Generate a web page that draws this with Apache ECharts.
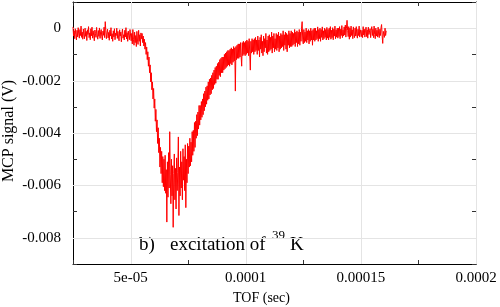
<!DOCTYPE html>
<html><head><meta charset="utf-8">
<script src="https://cdn.jsdelivr.net/npm/echarts@6/dist/echarts.min.js"></script>
<style>html,body{margin:0;padding:0;background:#fff}#c{width:500px;height:307px}</style>
</head><body><div id="c"></div>
<script>
// sampling grid of the recorded trace
const tStart_us = 25.0;
const tStep_us = 0.25;
// MCP signal, in mV, one value per sample
const signal_mV = [
0.05,-0.30,-0.10,-0.40,-0.02,-0.25,-0.45,-0.08,-0.33,0.02,-0.22,-0.38,-0.05,-0.28,0.08,-0.35,-0.15,-0.42,-0.03,-0.26,
-0.40,0.00,-0.31,-0.12,-0.47,-0.06,-0.24,0.06,-0.36,-0.18,-0.44,-0.02,-0.29,0.04,-0.38,-0.10,-0.27,-0.48,-0.07,-0.20,
-0.35,0.03,-0.26,-0.42,-0.09,-0.31,0.01,-0.39,-0.14,-0.05,-0.33,-0.45,-0.11,-0.27,0.04,-0.36,0.25,-0.08,-0.40,-0.18,
-0.04,-0.37,-0.16,-0.46,-0.08,-0.30,0.02,-0.41,-0.21,-0.50,-0.10,-0.33,-0.02,-0.44,-0.19,-0.28,0.00,-0.39,-0.12,-0.34,
-0.48,-0.06,-0.30,-0.15,-0.52,-0.20,-0.03,-0.38,-0.25,-0.45,-0.08,-0.33,0.02,-0.41,-0.17,-0.50,-0.11,-0.29,-0.44,-0.05,
-0.10,-0.48,-0.20,-0.60,-0.05,-0.42,-0.65,-0.15,-0.55,-0.28,-0.70,-0.12,-0.45,-0.62,-0.08,-0.50,-0.25,-0.68,-0.18,-0.40,
-0.20,-0.55,-0.30,-0.68,-0.42,-0.80,-0.55,-1.00,-0.72,-1.20,-0.90,-1.45,-1.10,-1.70,-1.40,-2.05,-1.70,-2.35,-2.05,-2.70,
-2.30,-3.05,-2.70,-3.55,-3.10,-3.95,-3.50,-4.40,-3.80,-4.75,-4.20,-5.30,-4.55,-5.55,-4.70,-5.90,-4.90,-6.05,-5.00,-6.20,
-4.85,-6.30,-5.40,-7.40,-5.10,-6.45,-4.75,-6.10,-3.95,-5.60,-6.70,-5.00,-6.40,-5.25,-7.60,-5.55,-4.80,-6.55,-5.35,-6.90,
-4.95,-6.20,-5.50,-4.15,-7.15,-5.30,-6.40,-4.70,-6.10,-5.10,-6.55,-4.60,-5.80,-4.90,-6.20,-4.45,-6.85,-5.00,-5.90,-4.40,
-5.55,-4.50,-5.30,-4.20,-5.25,-4.35,-5.10,-3.95,-4.85,-3.90,-4.70,-3.60,-4.55,-3.55,-4.20,-3.30,-4.10,-3.20,-3.85,-2.95,
-3.70,-2.95,-3.50,-2.80,-3.40,-2.70,-3.30,-2.50,-3.15,-2.40,-3.00,-2.25,-2.90,-2.20,-2.75,-2.05,-2.70,-1.95,-2.55,-1.90,
-2.50,-1.80,-2.35,-1.70,-2.30,-1.60,-2.15,-1.50,-2.10,-1.45,-1.95,-1.35,-1.95,-1.30,-1.80,-1.20,-1.85,-1.15,-1.70,-1.10,
-1.70,-1.10,-1.60,-1.00,-1.55,-0.95,-1.50,-0.90,-1.45,-0.85,-1.40,-0.85,-1.45,-0.80,-1.35,-0.75,-1.40,-0.80,-1.30,-0.70,
-1.25,-0.75,-2.40,-0.70,-1.20,-0.65,-1.15,-0.60,-1.15,-0.60,-1.10,-0.55,-1.05,-1.45,-0.55,-1.05,-0.50,-1.00,-0.55,-1.05,
-0.50,-1.00,-0.45,-0.95,-0.50,-1.05,-0.40,-0.95,-1.60,-0.50,-0.95,-0.40,-0.90,-0.45,-1.00,-0.40,-0.90,-0.35,-0.85,-0.45,
-1.00,-0.30,-0.85,-0.45,-1.10,-0.35,-0.80,-0.25,-0.95,-0.50,-1.05,-0.30,-0.90,-0.40,-0.75,-0.20,-0.95,-0.45,-1.00,-0.30,
-0.90,-0.25,-0.85,-0.35,-0.80,-0.15,-0.95,-0.30,-0.75,-0.20,-0.90,-0.40,-0.80,-0.20,-0.85,-0.25,-0.75,-0.15,-0.90,-0.30,
-0.80,-0.20,-0.75,-0.25,-0.70,-0.10,-0.85,-0.25,-0.65,-0.15,-0.80,-0.20,-0.90,-0.25,-0.65,-0.10,-0.75,-0.20,-0.70,-0.10,
-0.70,-0.15,-0.65,-0.20,-0.60,-0.05,-0.70,-0.15,-0.55,-0.10,-0.70,-0.15,-0.60,-0.05,-0.65,-0.15,-0.50,0.00,0.25,-0.45,
-0.60,-0.05,-0.55,-0.15,-0.50,0.00,-0.55,-0.10,-0.45,-0.05,-0.60,-0.10,-0.50,0.00,-0.45,-0.10,-0.65,-0.05,-0.45,0.00,
-0.50,0.00,-0.45,-0.10,-0.40,0.05,-0.50,-0.05,-0.40,0.00,-0.50,-0.05,-0.35,0.05,-0.45,-0.10,-0.40,0.00,-0.35,-0.05,
-0.45,0.03,-0.38,-0.05,-0.45,0.00,-0.35,0.06,-0.42,-0.08,-0.36,0.02,-0.44,-0.04,-0.30,0.08,-0.40,-0.06,-0.34,0.00,
-0.38,0.00,-0.32,0.06,-0.40,-0.04,-0.28,0.10,-0.36,-0.06,-0.30,0.05,-0.26,0.12,-0.34,0.00,0.30,-0.08,-0.32,0.06,
-0.42,0.00,-0.34,0.08,-0.28,-0.06,-0.40,0.05,-0.24,-0.36,0.00,-0.30,0.06,-0.26,-0.38,-0.04,-0.28,0.08,-0.34,-0.06,
0.00,-0.32,-0.08,-0.36,0.06,-0.26,-0.04,-0.34,-0.10,0.04,-0.32,-0.06,-0.38,0.04,-0.24,-0.30,-0.02,-0.36,-0.08,0.06,
-0.28,-0.04,-0.36,0.08,-0.24,-0.40,0.00,-0.30,-0.08,-0.34,0.04,-0.26,-0.36,-0.04,-0.28,0.02,0.14,-0.30,-0.58,-0.12,
-0.05,-0.35,0.00,-0.28,-0.10
];
const xTickValues = [5e-5, 1e-4, 1.5e-4, 2e-4];
const xTickLabels = ['5e-05', '0.0001', '0.00015', '0.0002'];
const yTickValues = [0, -0.002, -0.004, -0.006, -0.008];
const yTickLabels = ['0', '-0.002', '-0.004', '-0.006', '-0.008'];

const points = signal_mV.map((v, i) => [(tStart_us + i * tStep_us) * 1e-6, v / 1000]);

function pick(vals, labels, v) {
  for (let i = 0; i < vals.length; i++) if (Math.abs(vals[i] - v) < 1e-9) return labels[i];
  return '';
}
const serif = 'Liberation Serif';
const gridCol = '#e4e4e4';
const tickAxis = (pos, min, max, interval, showLine) => ({
  type: 'value', position: pos, min: min, max: max, interval: interval,
  axisLine: {show: showLine, onZero: false, lineStyle: {color: '#000', width: 1}},
  axisTick: {show: true, inside: true, length: 4, lineStyle: {color: '#333', width: 1}},
  axisLabel: {show: false}, splitLine: {show: false}
});

// grid lines at the labelled ticks, drawn through the axes' own scales
const vGrid = xTickValues.map(v => [v, yTickValues[0]]);
const hGrid = yTickValues.map(v => [xTickValues[1], v]);
const gridLineSeries = (data, vertical) => ({
  type: 'custom', xAxisIndex: 0, yAxisIndex: 0, data: data, z: 1, silent: true, clip: false,
  encode: {x: 0, y: 1},
  renderItem: (params, api) => {
    const p = api.coord([api.value(0), api.value(1)]);
    const cs = params.coordSys;
    const shape = vertical
      ? {x1: Math.round(p[0]) + 0.5, y1: cs.y, x2: Math.round(p[0]) + 0.5, y2: cs.y + cs.height}
      : {x1: cs.x, y1: Math.round(p[1]) + 0.5, x2: cs.x + cs.width, y2: Math.round(p[1]) + 0.5};
    return {type: 'line', shape: shape, style: {stroke: gridCol, lineWidth: 1}};
  }
});

const chart = echarts.init(document.getElementById('c'), null, {renderer: 'canvas'});
chart.setOption({
  animation: false,
  backgroundColor: '#fff',
  grid: {left: 73, right: 24, top: 2, bottom: 43, containLabel: false, outerBoundsMode: 'none'},
  xAxis: [
    {
      type: 'value', position: 'bottom', min: 2.5e-5, max: 2e-4, interval: 2.5e-5,
      axisLine: {show: true, onZero: false, lineStyle: {color: '#000', width: 1}},
      axisTick: {show: false},
      axisLabel: {color: '#000', fontFamily: serif, fontSize: 15, margin: 7,
        formatter: v => pick(xTickValues, xTickLabels, v)},
      splitLine: {show: false},
      name: 'TOF (sec)', nameLocation: 'middle', nameGap: 24,
      nameTextStyle: {color: '#000', fontFamily: serif, fontSize: 14, padding: [0, 26, 0, 0]}
    },
    // minor ticks (shifted scale so that ticks fall midway between labelled values)
    tickAxis('bottom', 0, 1.75e-4, 5e-5, false),
    tickAxis('top', 0, 1.75e-4, 5e-5, true)
  ],
  yAxis: [
    {
      type: 'value', position: 'left', min: -0.009, max: 0.001, interval: 0.001,
      axisLine: {show: true, onZero: false, lineStyle: {color: '#000', width: 1}},
      axisTick: {show: false},
      axisLabel: {color: '#000', fontFamily: serif, fontSize: 15, margin: 12,
        formatter: v => pick(yTickValues, yTickLabels, v)},
      splitLine: {show: false}
    },
    tickAxis('left', -0.010, 0, 0.002, false),
    tickAxis('right', -0.010, 0, 0.002, true)
  ],
  graphic: [
    {type: 'text', x: 9, y: 131, rotation: Math.PI / 2,
      style: {text: 'MCP signal (V)', font: '16px "Liberation Serif"', fill: '#000', align: 'center', verticalAlign: 'middle'}},
    {type: 'text', left: 139, top: 236, style: {text: 'b)', font: '19px "Liberation Serif"', fill: '#000'}},
    {type: 'text', left: 170, top: 236, style: {text: 'excitation of', font: '19px "Liberation Serif"', fill: '#000'}},
    {type: 'text', left: 272, top: 229, style: {text: '39', font: '13px "Liberation Serif"', fill: '#000'}},
    {type: 'text', left: 290, top: 236, style: {text: 'K', font: '19px "Liberation Serif"', fill: '#000'}}
  ],
  series: [
    gridLineSeries(vGrid, true),
    gridLineSeries(hGrid, false),
    {
      type: 'line', name: 'signal', xAxisIndex: 0, yAxisIndex: 0, data: points, z: 3,
      showSymbol: false, symbol: 'none',
      lineStyle: {color: '#ff0000', width: 1}
    }
  ]
});
</script></body></html>
